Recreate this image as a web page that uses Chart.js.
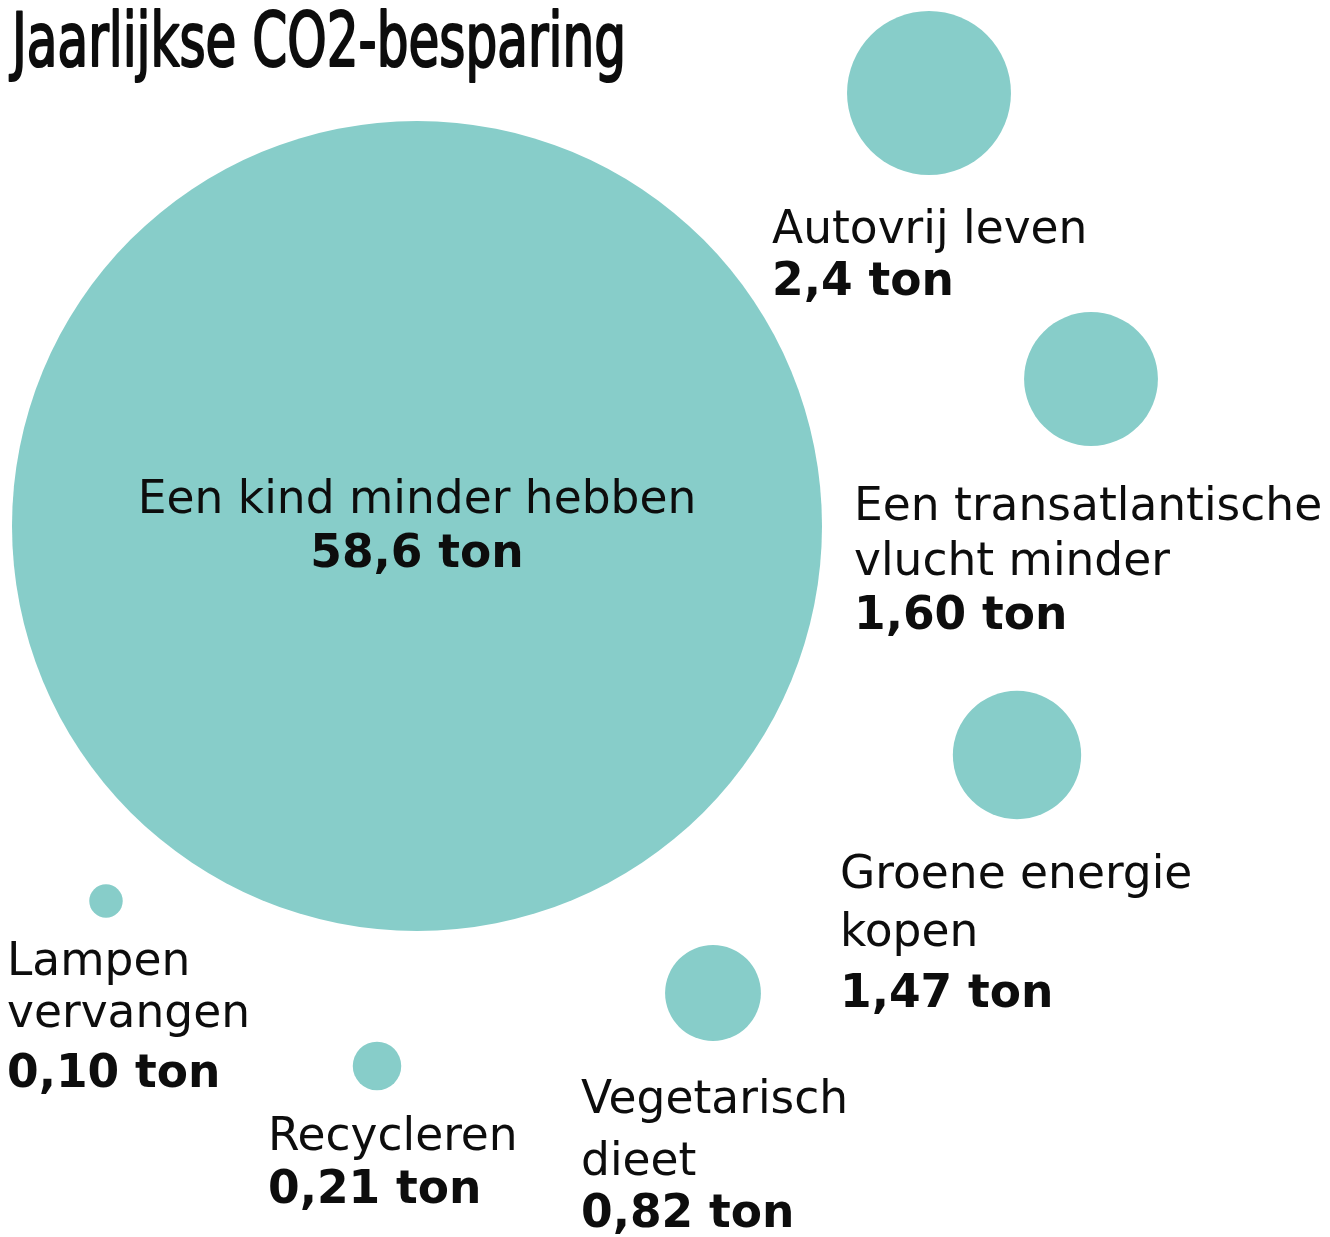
<!DOCTYPE html>
<html lang="nl">
<head>
<meta charset="utf-8">
<title>Jaarlijkse CO2-besparing</title>
<script src="https://cdn.jsdelivr.net/npm/chart.js@4/dist/chart.umd.min.js"></script>
<style>
    html, body { margin: 0; padding: 0; background: #ffffff; }
    #wrap { position: relative; width: 1330px; height: 1237px; }
</style>
</head>
<body>
<div id="wrap">
    <canvas id="co2Chart" width="1330" height="1237"></canvas>
</div>
<script>
// data
const chartTitle = 'Jaarlijkse CO2-besparing';
const categories = [
    'Een kind minder hebben',
    'Autovrij leven',
    'Een transatlantische vlucht minder',
    'Groene energie kopen',
    'Vegetarisch dieet',
    'Recycleren',
    'Lampen vervangen'
];
const values = [58.6, 2.4, 1.60, 1.47, 0.82, 0.21, 0.10];
const decimals = [1, 1, 2, 2, 2, 2, 2];
const unit = 'ton';
// how each category name is broken over lines
const nameLines = [
    ['Een kind minder hebben'],
    ['Autovrij leven'],
    ['Een transatlantische', 'vlucht minder'],
    ['Groene energie', 'kopen'],
    ['Vegetarisch', 'dieet'],
    ['Recycleren'],
    ['Lampen', 'vervangen']
];

// layout (pixels, canvas = 1330 x 1237)
const bubbleX = [417, 929, 1091, 1017, 713, 377, 106];
const bubbleY = [526, 93, 379, 755, 993, 1066, 901];
const maxRadius = 405;
const labelX = [417, 772, 854, 840, 581, 268, 7];
const labelAlign = ['center', 'left', 'left', 'left', 'left', 'left', 'left'];
const labelY = [
    [513, 567],
    [243, 295],
    [520, 575, 629],
    [888, 946, 1007],
    [1113, 1175, 1227],
    [1150, 1203],
    [975, 1027, 1087]
];

// style
const bubbleColor = '#87cdc9';
const textColor = '#0d0d0d';
const labelFont = '"DejaVu Sans", Verdana, sans-serif';
const labelSize = 45.5;
const titleFont = '"Liberation Sans Narrow", "DejaVu Sans Condensed", "Arial Narrow", sans-serif';

// bubble area is proportional to the value
function radiusFor(v) {
    const vMax = Math.max(...values);
    return maxRadius * Math.sqrt(v / vMax);
}

function formatValue(i) {
    return values[i].toFixed(decimals[i]).replace('.', ',') + ' ' + unit;
}

// title in a condensed face, squeezed to the reference width
const titlePlugin = {
    id: 'condensedTitle',
    afterDraw(chart) {
        const c = chart.ctx;
        c.save();
        c.fillStyle = textColor;
        c.strokeStyle = textColor;
        c.lineWidth = 2.2;
        c.lineJoin = 'round';
        c.textAlign = 'left';
        c.textBaseline = 'alphabetic';
        c.font = '75px ' + titleFont;
        const w = c.measureText(chartTitle).width;
        c.translate(12, 66);
        c.scale(614 / w, 1);
        c.fillText(chartTitle, 0, 0);
        c.strokeText(chartTitle, 0, 0);
        c.restore();
    }
};

// category name + bold value next to each bubble
const labelPlugin = {
    id: 'bubbleLabels',
    afterDatasetsDraw(chart) {
        const c = chart.ctx;
        const meta = chart.getDatasetMeta(0);
        c.save();
        c.fillStyle = textColor;
        c.textBaseline = 'alphabetic';
        categories.forEach((name, i) => {
            const align = labelAlign[i];
            const x = align === 'center' ? meta.data[i].x : labelX[i];
            const ys = labelY[i];
            c.textAlign = align;
            c.font = labelSize + 'px ' + labelFont;
            nameLines[i].forEach((line, j) => {
                c.fillText(line, x, ys[j]);
            });
            c.font = 'bold ' + labelSize + 'px ' + labelFont;
            c.fillText(formatValue(i), x, ys[nameLines[i].length]);
        });
        c.restore();
    }
};

const ctx = document.getElementById('co2Chart');
new Chart(ctx, {
    type: 'bubble',
    data: {
        labels: categories,
        datasets: [{
            label: 'CO2-besparing (ton)',
            data: values.map((v, i) => ({ x: bubbleX[i], y: bubbleY[i], r: radiusFor(v) })),
            backgroundColor: bubbleColor,
            borderWidth: 0,
            hoverRadius: 0,
            clip: false
        }]
    },
    options: {
        responsive: false,
        animation: false,
        events: [],
        // no extra room for the bubbles: scale units = canvas pixels
        layout: { padding: 0, autoPadding: false },
        plugins: {
            legend: { display: false },
            tooltip: { enabled: false },
            title: { display: false }
        },
        scales: {
            x: { type: 'linear', min: 0, max: 1330, display: false },
            y: { type: 'linear', min: 0, max: 1237, reverse: true, display: false }
        }
    },
    plugins: [titlePlugin, labelPlugin]
});
</script>
</body>
</html>
